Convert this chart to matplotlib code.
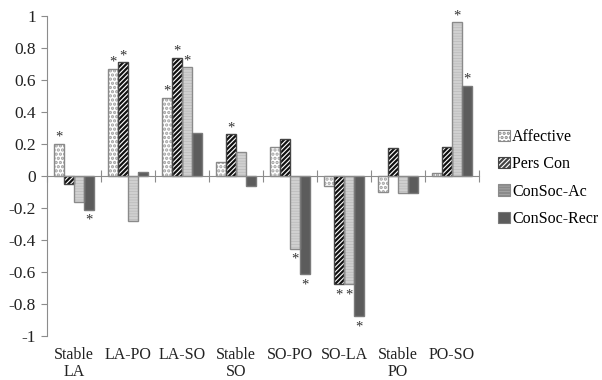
import matplotlib
matplotlib.use("Agg")
import matplotlib.pyplot as plt
import numpy as np

CATEGORIES = ["Stable\nLA", "LA-PO", "LA-SO", "Stable\nSO", "SO-PO", "SO-LA", "Stable\nPO", "PO-SO"]
SERIES = ["Affective", "Pers Con", "ConSoc-Ac", "ConSoc-Recr"]

AFFECTIVE = [0.20, 0.67, 0.49, 0.09, 0.18, -0.06, -0.10, 0.02]
PERS_CON = [-0.05, 0.71, 0.74, 0.26, 0.23, -0.675, 0.175, 0.18]
CONSOC_AC = [-0.165, -0.28, 0.68, 0.15, -0.455, -0.675, -0.105, 0.96]
CONSOC_RECR = [-0.21, 0.025, 0.27, -0.06, -0.615, -0.875, -0.105, 0.565]

# significance markers per series (category indices)
SIG = {
    "Affective": [0, 1, 2],
    "Pers Con": [1, 2, 3, 5],
    "ConSoc-Ac": [2, 4, 5, 7],
    "ConSoc-Recr": [0, 4, 5, 7],
}

YTICKS = [1, 0.8, 0.6, 0.4, 0.2, 0, -0.2, -0.4, -0.6, -0.8, -1]
YTICK_LABELS = ["1", "0.8", "0.6", "0.4", "0.2", "0", "-0.2", "-0.4", "-0.6", "-0.8", "-1"]

STYLES = {
    "Affective": dict(face="#ffffff", hatch="....", hatch_color="#a0a0a0", edge="#8a8a8a"),
    "Pers Con": dict(face="#ffffff", hatch="///////", hatch_color="#111111", edge="#444444"),
    "ConSoc-Ac": dict(face="#b4b4b4", hatch="------", hatch_color="#d0d0d0", edge="#8a8a8a"),
    "ConSoc-Recr": dict(face="#5c5c5c", hatch=None, hatch_color="#5c5c5c", edge="#7a7a7a"),
}

plt.rcParams["font.family"] = ["Liberation Serif", "DejaVu Serif"]
plt.rcParams["hatch.linewidth"] = 1.6

fig = plt.figure(figsize=(6.02, 3.8), dpi=100)
ax = fig.add_axes([0.0781, 0.1158, 0.7176, 0.8421])

values = [AFFECTIVE, PERS_CON, CONSOC_AC, CONSOC_RECR]
x = np.arange(len(CATEGORIES)) + 0.5
width = 0.185

for j, (name, vals) in enumerate(zip(SERIES, values)):
    st = STYLES[name]
    pos = x + (j - 1.5) * width
    ax.bar(pos, vals, width, color=st["face"], edgecolor=st["hatch_color"],
           hatch=st["hatch"], linewidth=0, zorder=2)
    ax.bar(pos, vals, width, fill=False, edgecolor=st["edge"], linewidth=1.0, zorder=3)
    # legend proxy
    ax.bar([0], [0], 0, color=st["face"], edgecolor=st["edge"], hatch=st["hatch"],
           linewidth=0.8, label=name)
    for i in SIG[name]:
        v = vals[i]
        if v >= 0:
            ax.annotate("*", (pos[i], v), xytext=(0, 0), textcoords="offset points",
                        ha="center", va="bottom", fontsize=10.5, color="#333333")
        else:
            ax.annotate("*", (pos[i], v), xytext=(0, -3), textcoords="offset points",
                        ha="center", va="top", fontsize=10.5, color="#333333")

ax.set_xlim(0, len(CATEGORIES))
ax.set_ylim(-1, 1)
ax.set_yticks(YTICKS)
ax.set_yticklabels(YTICK_LABELS, fontsize=12.5, color="#222222")
ax.set_xticks(np.arange(len(CATEGORIES) + 1))
ax.set_xticklabels([])

for side in ["top", "right"]:
    ax.spines[side].set_visible(False)
ax.spines["left"].set_color("#8c8c8c")
ax.spines["bottom"].set_color("#8c8c8c")
ax.spines["bottom"].set_position(("data", 0))
ax.spines["bottom"].set_zorder(4)
ax.tick_params(axis="y", direction="out", length=4, color="#8c8c8c", pad=4)
ax.tick_params(axis="x", direction="inout", length=8, color="#8c8c8c")

for xi, label in zip(x, CATEGORIES):
    ax.text(xi, -0.035, label, transform=ax.get_xaxis_transform(), ha="center", va="top",
            fontsize=11.5, color="#222222", linespacing=1.05)

leg = ax.legend(loc="center left", bbox_to_anchor=(1.03, 0.494), frameon=False,
                fontsize=11.5, handlelength=0.7, handleheight=0.7, handletextpad=0.15,
                labelspacing=0.7, borderaxespad=0)

fig.savefig("out.png", dpi=100)
